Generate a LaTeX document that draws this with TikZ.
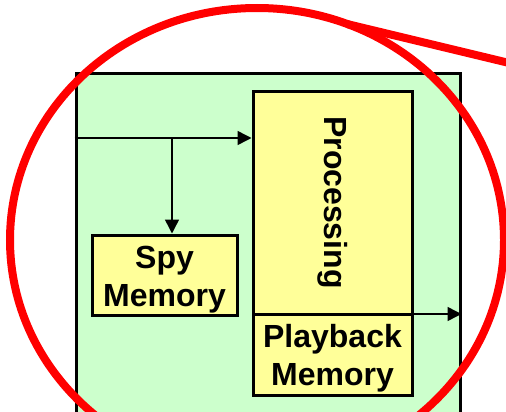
\documentclass[tikz,border=0pt]{standalone}
\usepackage{fontspec}
\setmainfont{Liberation Sans}
\usetikzlibrary{arrows.meta}
\definecolor{boardgreen}{HTML}{CCFFCC}
\definecolor{blockyellow}{HTML}{FFFF99}
\newcommand{\topgap}{\rule{0pt}{31pt}}
\begin{document}
\begin{tikzpicture}[x=1pt,y=-1pt,
  block/.style={draw=black, line width=3pt, fill=blockyellow, inner sep=0pt,
    align=center, font=\fontsize{32}{38}\selectfont\bfseries},
  board/.style={draw=black, line width=3pt, fill=boardgreen, inner sep=0pt},
  flow/.style={line width=1.5pt, -{Triangle[length=14pt,width=14pt]}},
  callout/.style={draw=red, line width=8pt}]
  \useasboundingbox (0,0) rectangle (506,412);
  \clip (0,0) rectangle (506,412);

  % module outline
  \node[board, minimum width=384pt, minimum height=356pt] (brd) at (268,252) {};

  % processing chain
  \node[block, minimum width=159pt, minimum height=223pt] (proc) at (332.5,202.5)
    {\rotatebox{-90}{Processing}};
  \node[block, minimum width=159pt, minimum height=81pt] (play) at (332.5,354.5)
    {\topgap Playback\\Memory};
  \node[block, minimum width=145pt, minimum height=80pt] (spy) at (164.5,275)
    {\topgap Spy\\Memory};

  % signal paths
  \coordinate (in) at (brd.west |- 0,138);
  \coordinate (tap) at (172,138);
  \coordinate (split) at (proc.east |- 0,314);
  \draw[flow] (in) -- (proc.west |- in);
  \draw[flow] (tap) -- (spy.north -| tap);
  \draw[flow] (split) -- (brd.east |- split);

  % red callout ring
  \draw[callout] (257,240) ellipse [x radius=247, y radius=232];
  \coordinate (ringtop) at (347,24);
  \coordinate (tail) at (530,68);
  \draw[callout] (ringtop) -- (tail);
\end{tikzpicture}
\end{document}
